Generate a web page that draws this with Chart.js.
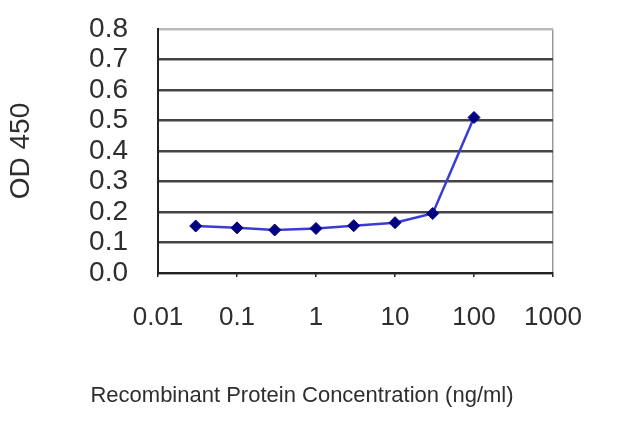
<!DOCTYPE html>
<html>
<head>
<meta charset="utf-8">
<script src="https://cdn.jsdelivr.net/npm/chart.js@4"></script>
<style>
  html, body { margin: 0; padding: 0; background: #fff; }
  #wrap { width: 640px; height: 427px; }
</style>
</head>
<body>
<div id="wrap"><canvas id="c" width="640" height="427"></canvas></div>
<script>
// concentration (ng/ml) and measured OD 450
const concentrations = [0.03, 0.1, 0.3, 1, 3, 10, 30, 100];
const od450 = [0.154, 0.148, 0.141, 0.146, 0.155, 0.165, 0.195, 0.51];
const xTickValues = [0.01, 0.1, 1, 10, 100, 1000];
const xTickLabels = ["0.01", "0.1", "1", "10", "100", "1000"];
const yTickLabels = ["0.0", "0.1", "0.2", "0.3", "0.4", "0.5", "0.6", "0.7", "0.8"];

const FONT = "'Liberation Sans', Arial, sans-serif";
const TEXT = "#2e2e2e";

/* x axis title is offset left of the plot centre in the original, so draw it here */
const xTitle = {
  id: "xTitle",
  afterDraw(chart) {
    const ctx = chart.ctx;
    ctx.save();
    ctx.font = "22px " + FONT;
    ctx.fillStyle = TEXT;
    ctx.textAlign = "center";
    ctx.textBaseline = "middle";
    ctx.fillText("Recombinant Protein Concentration (ng/ml)", 302, 396);
    ctx.restore();
  }
};

new Chart(document.getElementById("c"), {
  type: "line",
  data: {
    datasets: [{
      data: concentrations.map((x, i) => ({x: x, y: od450[i]})),
      borderColor: "#3b3bd6",
      borderWidth: 2.5,
      tension: 0,
      pointStyle: "rectRot",
      pointRadius: 6,
      pointBackgroundColor: "#000080",
      pointBorderColor: "#000080",
      pointBorderWidth: 1
    }]
  },
  options: {
    responsive: false,
    animation: false,
    layout: { padding: { left: 0, right: 87, top: 29, bottom: 0 } },
    plugins: { legend: { display: false }, tooltip: { enabled: false } },
    scales: {
      x: {
        type: "logarithmic",
        min: 0.01,
        max: 1000,
        afterBuildTicks: (scale) => { scale.ticks = xTickValues.map(v => ({value: v})); },
        afterFit: (scale) => { scale.height = 154; scale.paddingLeft = 0; scale.paddingRight = 0; },
        border: { color: "#222", width: 2 },
        grid: {
          drawOnChartArea: true,
          drawTicks: true,
          tickLength: 4,
          lineWidth: 1.5,
          color: (c) => (c.tick && c.tick.value === 1000 ? "#999" : "rgba(0,0,0,0)"),
          tickColor: "#222"
        },
        ticks: {
          autoSkip: false,
          maxRotation: 0,
          padding: 25,
          color: TEXT,
          font: { family: FONT, size: 26 },
          callback: (v) => { const i = xTickValues.indexOf(v); return i < 0 ? "" : xTickLabels[i]; }
        }
      },
      y: {
        min: 0,
        max: 0.8,
        afterBuildTicks: (scale) => { scale.ticks = yTickLabels.map(l => ({value: parseFloat(l)})); },
        afterFit: (scale) => { scale.width = 158; scale.paddingTop = 0; scale.paddingBottom = 0; },
        border: { color: "#222", width: 2 },
        grid: {
          drawTicks: false,
          lineWidth: 2.5,
          color: (c) => (c.tick && c.tick.value >= 0.8 ? "#bbb" : "#444")
        },
        ticks: {
          autoSkip: false,
          padding: 30,
          color: TEXT,
          font: { family: FONT, size: 28 },
          callback: (v) => yTickLabels[Math.round(v * 10)]
        },
        title: {
          display: true,
          text: "OD 450",
          color: TEXT,
          font: { family: FONT, size: 28 },
          padding: { top: 4, bottom: 0 }
        }
      }
    }
  },
  plugins: [xTitle]
});
</script>
</body>
</html>
